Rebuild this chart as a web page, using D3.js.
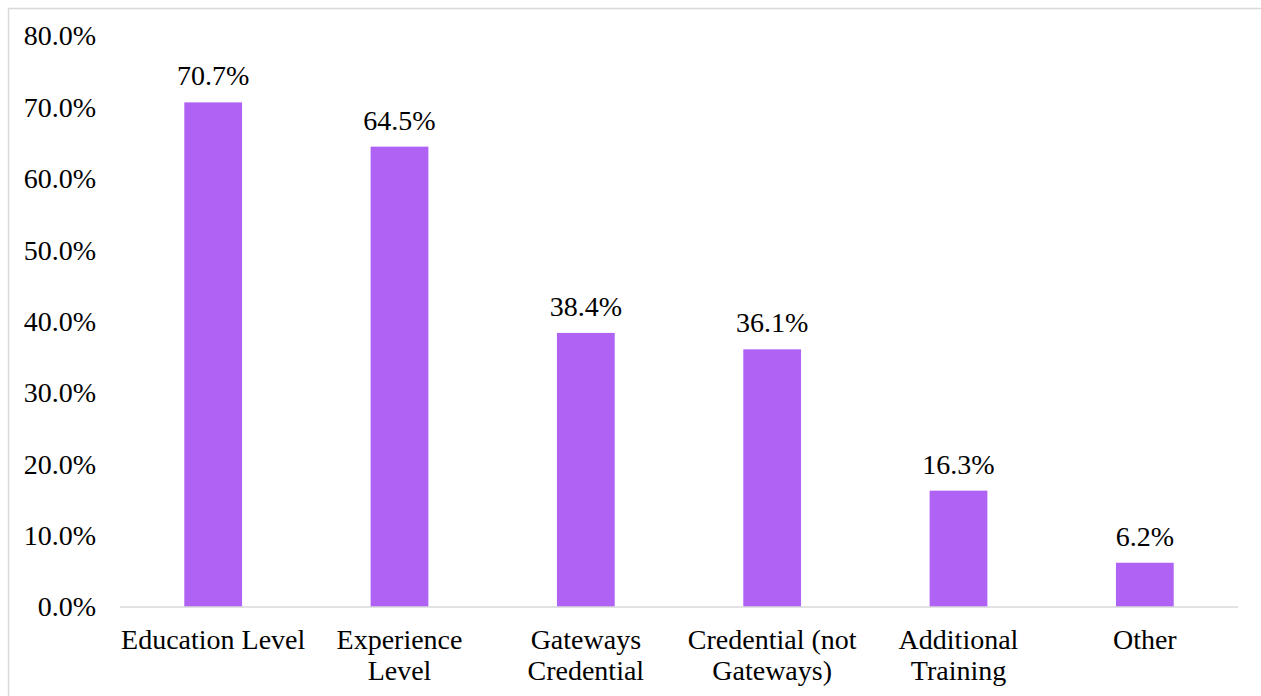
<!DOCTYPE html>
<html>
<head>
<meta charset="utf-8">
<script src="https://cdn.jsdelivr.net/npm/d3@7"></script>
<style>
  html, body { margin: 0; padding: 0; background: #fff; }
  svg { display: block; }
  text { font-family: "Liberation Serif", "Times New Roman", serif; fill: #000; }
</style>
</head>
<body>
<svg id="chart" width="1261" height="696"></svg>
<script>
// Share of responses by factor
const categories = [
  ["Education Level"],
  ["Experience", "Level"],
  ["Gateways", "Credential"],
  ["Credential (not", "Gateways)"],
  ["Additional", "Training"],
  ["Other"]
];
const values = [70.7, 64.5, 38.4, 36.1, 16.3, 6.2];
const yTicks = [0, 10, 20, 30, 40, 50, 60, 70, 80];

const W = 1261, H = 696;
const margin = { left: 120, right: 23, top: 36, bottom: 89 };
const fontSize = 28;

const svg = d3.select("#chart");

// outer frame
svg.append("rect")
  .attr("x", 8.5).attr("y", 8.5)
  .attr("width", W + 10).attr("height", H + 10)
  .attr("fill", "none")
  .attr("stroke", "#d9d9d9")
  .attr("stroke-width", 1.5);

const x = d3.scaleBand()
  .domain(d3.range(categories.length))
  .range([margin.left, W - margin.right])
  .paddingInner(0.69)
  .paddingOuter(0.345);

const y = d3.scaleLinear()
  .domain([0, 80])
  .range([H - margin.bottom, margin.top]);

// y axis labels (no line, no ticks)
const yAxis = d3.axisLeft(y)
  .tickValues(yTicks)
  .tickSize(0)
  .tickPadding(0)
  .tickFormat(d => d.toFixed(1) + "%");

const gy = svg.append("g")
  .attr("transform", `translate(${margin.left - 24},0)`)
  .call(yAxis)
  .attr("font-family", "Liberation Serif, Times New Roman, serif");
gy.select(".domain").remove();
gy.selectAll("text")
  .attr("font-size", fontSize)
  .attr("fill", "#000");

// bars
svg.append("g").selectAll("rect")
  .data(values)
  .join("rect")
  .attr("x", (d, i) => x(i))
  .attr("width", x.bandwidth())
  .attr("y", d => y(d))
  .attr("height", d => y(0) - y(d))
  .attr("fill", "#b062f4");

// value labels
svg.append("g").selectAll("text")
  .data(values)
  .join("text")
  .attr("x", (d, i) => x(i) + x.bandwidth() / 2)
  .attr("y", d => y(d) - 17)
  .attr("text-anchor", "middle")
  .attr("font-size", fontSize)
  .text(d => d.toFixed(1) + "%");

// baseline
svg.append("line")
  .attr("x1", margin.left).attr("x2", W - margin.right)
  .attr("y1", y(0)).attr("y2", y(0))
  .attr("stroke", "#d9d9d9")
  .attr("stroke-width", 1.5);

// category labels
const gx = svg.append("g");
categories.forEach((lines, i) => {
  const cx = x(i) + x.bandwidth() / 2;
  const t = gx.append("text")
    .attr("x", cx)
    .attr("y", y(0) + 42)
    .attr("text-anchor", "middle")
    .attr("font-size", fontSize);
  lines.forEach((ln, j) => {
    t.append("tspan")
      .attr("x", cx)
      .attr("dy", j === 0 ? 0 : 31)
      .text(ln);
  });
});
</script>
</body>
</html>
